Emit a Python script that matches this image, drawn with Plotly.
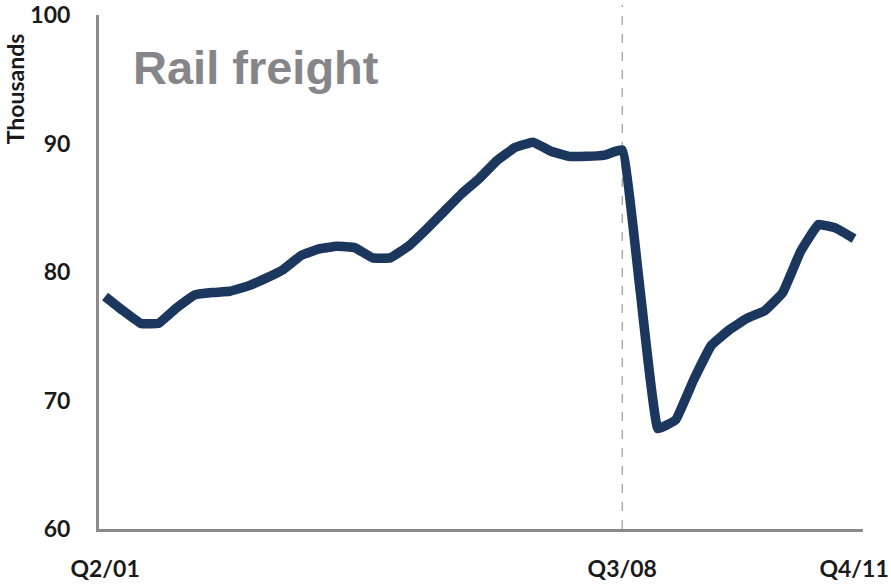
import plotly.graph_objects as go

quarters = ["Q2/01","Q3/01","Q4/01","Q1/02","Q2/02","Q3/02","Q4/02","Q1/03","Q2/03","Q3/03","Q4/03",
            "Q1/04","Q2/04","Q3/04","Q4/04","Q1/05","Q2/05","Q3/05","Q4/05","Q1/06","Q2/06","Q3/06",
            "Q4/06","Q1/07","Q2/07","Q3/07","Q4/07","Q1/08","Q2/08","Q3/08","Q4/08","Q1/09","Q2/09",
            "Q3/09","Q4/09","Q1/10","Q2/10","Q3/10","Q4/10","Q1/11","Q2/11","Q3/11","Q4/11"]
freight = [78.1, 77.0, 76.0, 76.0, 77.2, 78.2, 78.4, 78.5, 78.9, 79.5, 80.2,
           81.3, 81.8, 82.0, 81.9, 81.1, 81.1, 82.0, 83.3, 84.7, 86.1, 87.3,
           88.7, 89.7, 90.1, 89.4, 89.0, 89.0, 89.1, 89.5, 78.6, 67.8, 68.5,
           71.6, 74.3, 75.5, 76.4, 77.0, 78.4, 81.6, 83.7, 83.4, 82.6]
tick_labels = ["Q2/01", "Q3/08", "Q4/11"]
y_ticks = [60, 70, 80, 90, 100]

idx = list(range(len(quarters)))
tick_idx = [quarters.index(t) for t in tick_labels]
break_idx = quarters.index("Q3/08")

fig = go.Figure()
fig.add_trace(go.Scatter(x=idx, y=freight, mode="lines",
                         line=dict(color="#1b375d", width=9.5, shape="spline", smoothing=0.25),
                         hoverinfo="skip", showlegend=False))

tickfont = dict(family="Lato", size=23, color="#1a1a1a", weight="bold")
fig.update_layout(
    width=891, height=584,
    margin=dict(l=99, r=28, t=15, b=55),
    paper_bgcolor="white", plot_bgcolor="white",
    xaxis=dict(range=[-0.34, 42.5], tickvals=tick_idx, ticktext=tick_labels, automargin=False,
               showgrid=False, zeroline=False, showline=True, linecolor="#8a8a8a", linewidth=3,
               ticks="outside", ticklen=17, tickcolor="rgba(0,0,0,0)", tickfont=tickfont),
    yaxis=dict(range=[60, 100], tickvals=y_ticks, automargin=False,
               showgrid=False, zeroline=False, showline=True, linecolor="#8a8a8a", linewidth=3,
               ticks="outside", ticklen=21, tickcolor="rgba(0,0,0,0)", tickfont=tickfont),
    shapes=[dict(type="line", xref="x", yref="paper", x0=break_idx, x1=break_idx, y0=0, y1=1.02,
                 line=dict(color="#9a9a9a", width=1.2, dash="dash"), layer="below")],
    annotations=[
        dict(text="Rail freight", xref="paper", yref="paper", x=0.0425, y=0.897,
             xanchor="left", yanchor="middle", showarrow=False,
             font=dict(family="Liberation Sans", size=47, color="#86868a", weight="bold")),
        dict(text="Thousands", xref="paper", yref="paper", x=-0.1095, y=0.856, textangle=-90,
             xanchor="center", yanchor="middle", showarrow=False,
             font=dict(family="Lato", size=23, color="#1a1a1a", weight="bold")),
    ],
)
fig.write_html("out.html", config={"displayModeBar": False},
               post_script="document.body.style.margin='0';document.body.style.overflow='hidden';")
